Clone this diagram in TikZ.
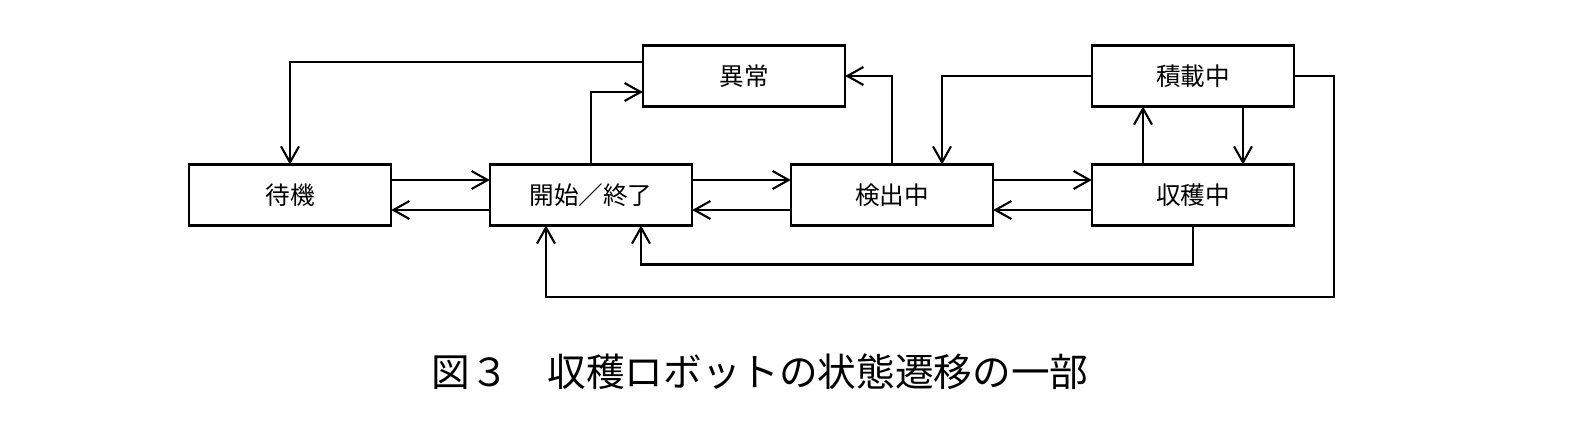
\documentclass[tikz,border=0pt]{standalone}
\usepackage{fontspec}
\setmainfont{Noto Sans CJK JP}
\usetikzlibrary{positioning,arrows.meta}
\begin{document}
\begin{tikzpicture}[
        state/.style = {
            draw,line width=1.2pt,outer sep=0pt,
            minimum width=4.05cm,minimum height=1.22cm,
            font=\fontsize{14}{16}\selectfont},
        arr/.style = {line width=1.2pt,-{Straight Barb[length=3.2mm,width=3.6mm]}},
]
        \useasboundingbox (-5.8,-4.58) rectangle (26.08,3.9);
        \node[state] (wait) {待機};
        \node[state] (start) [right=1.97 of wait] {開始／終了};
        \node[state] (detect) [right=1.97 of start] {検出中};
        \node[state] (harvest) [right=1.97 of detect] {収穫中};
        \node[state] (error) at (9.08,2.38) {異常};
        \node[state] (load) [above=1.16 of harvest] {積載中};
        \node (caption) at (9.4,-3.54) {\fontsize{22}{26}\selectfont 図３　収穫ロボットの状態遷移の一部};
        % row
        \draw [arr] ([yshift=.3cm]wait.east) -- ([yshift=.3cm]start.west);
        \draw [arr] ([yshift=-.3cm]start.west) -- ([yshift=-.3cm]wait.east);
        \draw [arr] ([yshift=.3cm]start.east) -- ([yshift=.3cm]detect.west);
        \draw [arr] ([yshift=-.3cm]detect.west) -- ([yshift=-.3cm]start.east);
        \draw [arr] ([yshift=.3cm]detect.east) -- ([yshift=.3cm]harvest.west);
        \draw [arr] ([yshift=-.3cm]harvest.west) -- ([yshift=-.3cm]detect.east);
        % upper part
        \draw [arr] (start.north) |- ([yshift=-.32cm]error.west);
        \draw [arr] ([yshift=.28cm]error.west) -| (wait.north);
        \draw [arr] (detect.north) |- (error.east);
        \draw [arr] (load.west) -| ([xshift=1cm]detect.north);
        \draw [arr] ([xshift=-1cm]harvest.north) -- ([xshift=-1cm]load.south);
        \draw [arr] ([xshift=1cm]load.south) -- ([xshift=1cm]harvest.north);
        % lower returns
        \coordinate (low) at (0,-2.04);
        \coordinate (foot) at ([xshift=-.9cm]start.south);
        \draw [arr] (harvest.south) -- ++(0,-.78) -| ([xshift=1cm]start.south);
        \draw [arr] (load.east) -- ++(.8,0) |- (low -| foot) -- (foot);
\end{tikzpicture}
\end{document}
